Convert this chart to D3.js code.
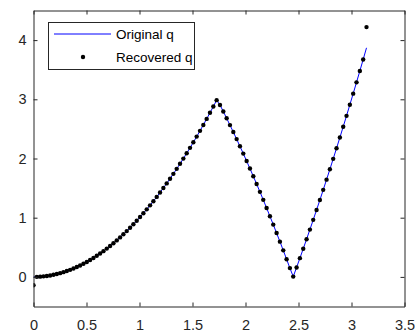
<!DOCTYPE html>
<html>
<head>
<meta charset="utf-8">
<script src="https://cdn.jsdelivr.net/npm/d3@7"></script>
<style>
  html, body { margin: 0; padding: 0; background: #ffffff; }
  svg { display: block; }
  text { font-family: "Liberation Sans", Arial, Helvetica, sans-serif; }
</style>
</head>
<body>
<div id="chart"></div>
<script>
// ---------- data ----------
const xValues = [
  0, 0.0314, 0.0628, 0.0942, 0.1257, 0.1571, 0.1885, 0.2199, 0.2513, 0.2827,
  0.3142, 0.3456, 0.3770, 0.4084, 0.4398, 0.4712, 0.5027, 0.5341, 0.5655, 0.5969,
  0.6283, 0.6597, 0.6912, 0.7226, 0.7540, 0.7854, 0.8168, 0.8482, 0.8796, 0.9111,
  0.9425, 0.9739, 1.0053, 1.0367, 1.0681, 1.0996, 1.1310, 1.1624, 1.1938, 1.2252,
  1.2566, 1.2881, 1.3195, 1.3509, 1.3823, 1.4137, 1.4451, 1.4765, 1.5080, 1.5394,
  1.5708, 1.6022, 1.6336, 1.6650, 1.6965, 1.7279, 1.7593, 1.7907, 1.8221, 1.8535,
  1.8850, 1.9164, 1.9478, 1.9792, 2.0106, 2.0420, 2.0735, 2.1049, 2.1363, 2.1677,
  2.1991, 2.2305, 2.2619, 2.2934, 2.3248, 2.3562, 2.3876, 2.4190, 2.4504, 2.4819,
  2.5133, 2.5447, 2.5761, 2.6075, 2.6389, 2.6704, 2.7018, 2.7332, 2.7646, 2.7960,
  2.8274, 2.8588, 2.8903, 2.9217, 2.9531, 2.9845, 3.0159, 3.0473, 3.0788, 3.1102,
  3.1416
];
const originalQ = [
  0, 0.0010, 0.0039, 0.0089, 0.0158, 0.0247, 0.0355, 0.0484, 0.0632, 0.0799,
  0.0987, 0.1194, 0.1421, 0.1668, 0.1934, 0.2221, 0.2527, 0.2852, 0.3198, 0.3563,
  0.3948, 0.4353, 0.4777, 0.5221, 0.5685, 0.6169, 0.6672, 0.7195, 0.7738, 0.8300,
  0.8883, 0.9485, 1.0107, 1.0748, 1.1409, 1.2090, 1.2791, 1.3512, 1.4252, 1.5012,
  1.5791, 1.6591, 1.7410, 1.8249, 1.9108, 1.9986, 2.0884, 2.1802, 2.2740, 2.3697,
  2.4674, 2.5671, 2.6687, 2.7724, 2.8780, 2.9856, 2.9049, 2.7934, 2.6799, 2.5644,
  2.4469, 2.3275, 2.2061, 2.0828, 1.9574, 1.8301, 1.7008, 1.5695, 1.4363, 1.3011,
  1.1639, 1.0247, 0.8836, 0.7405, 0.5954, 0.4484, 0.2993, 0.1483, 0.0047, 0.1596,
  0.3165, 0.4754, 0.6363, 0.7992, 0.9640, 1.1308, 1.2996, 1.4703, 1.6430, 1.8177,
  1.9944, 2.1730, 2.3536, 2.5362, 2.7207, 2.9073, 3.0958, 3.2863, 3.4787, 3.6732,
  3.8696
];
const recoveredQ = [
  -0.14, 0.0010, 0.0039, 0.0089, 0.0158, 0.0247, 0.0355, 0.0484, 0.0632, 0.0799,
  0.0987, 0.1194, 0.1421, 0.1668, 0.1934, 0.2221, 0.2527, 0.2852, 0.3198, 0.3563,
  0.3948, 0.4353, 0.4777, 0.5221, 0.5685, 0.6169, 0.6672, 0.7195, 0.7738, 0.8300,
  0.8883, 0.9485, 1.0107, 1.0748, 1.1409, 1.2090, 1.2791, 1.3512, 1.4252, 1.5012,
  1.5791, 1.6591, 1.7410, 1.8249, 1.9108, 1.9986, 2.0884, 2.1802, 2.2740, 2.3697,
  2.4674, 2.5671, 2.6687, 2.7724, 2.8780, 2.9856, 2.9049, 2.7934, 2.6799, 2.5644,
  2.4469, 2.3275, 2.2061, 2.0828, 1.9574, 1.8301, 1.7008, 1.5695, 1.4363, 1.3011,
  1.1639, 1.0247, 0.8836, 0.7405, 0.5954, 0.4484, 0.2993, 0.1483, 0.0047, 0.1596,
  0.3165, 0.4754, 0.6363, 0.7992, 0.9640, 1.1308, 1.2996, 1.4703, 1.6430, 1.8177,
  1.9944, 2.1730, 2.3536, 2.5362, 2.7207, 2.9073, 3.0958, 3.2863, 3.4787, 3.6732,
  4.22
];
const xTicks = [0, 0.5, 1, 1.5, 2, 2.5, 3, 3.5];
const xTickLabels = ["0", "0.5", "1", "1.5", "2", "2.5", "3", "3.5"];
const yTicks = [0, 1, 2, 3, 4];
const yTickLabels = ["0", "1", "2", "3", "4"];
const legendLabels = ["Original q", "Recovered q"];

// ---------- layout ----------
const W = 415, H = 333;
const mLeft = 33.5, mRight = 404.5, mTop = 10.5, mBottom = 306.5;
const axisColor = "#262626";
const tickFont = "14.5px";
const legendFont = "13.5px";

const x = d3.scaleLinear().domain([0, 3.5]).range([mLeft, mRight]);
const y = d3.scaleLinear().domain([-0.5, 4.5]).range([mBottom, mTop]);

const svg = d3.select("#chart").append("svg")
  .attr("width", W).attr("height", H);

svg.append("rect").attr("x", mLeft).attr("y", mTop)
  .attr("width", mRight - mLeft).attr("height", mBottom - mTop)
  .attr("fill", "#ffffff");

svg.append("clipPath").attr("id", "plotclip")
  .append("rect").attr("x", mLeft).attr("y", mTop)
  .attr("width", mRight - mLeft).attr("height", mBottom - mTop);

const plot = svg.append("g").attr("clip-path", "url(#plotclip)");

// original line
const line = d3.line().x((d, i) => x(xValues[i])).y(d => y(d));
plot.append("path").datum(originalQ)
  .attr("d", line)
  .attr("fill", "none")
  .attr("stroke", "#0000ff")
  .attr("stroke-width", 1);

// recovered points
plot.selectAll("circle.rec").data(recoveredQ).enter().append("circle")
  .attr("class", "rec")
  .attr("cx", (d, i) => x(xValues[i]))
  .attr("cy", d => y(d))
  .attr("r", 2.2)
  .attr("fill", "#000000");

// axes
const tickLen = 4;
const fmtX = (d, i) => xTickLabels[i];
const fmtY = (d, i) => yTickLabels[i];

const gx = svg.append("g").attr("transform", `translate(0,${mBottom})`)
  .call(d3.axisBottom(x).tickValues(xTicks).tickFormat(fmtX).tickSizeInner(-tickLen).tickSizeOuter(0).tickPadding(13));
const gxTop = svg.append("g").attr("transform", `translate(0,${mTop})`)
  .call(d3.axisTop(x).tickValues(xTicks).tickFormat("").tickSizeInner(-tickLen).tickSizeOuter(0));
const gy = svg.append("g").attr("transform", `translate(${mLeft},0)`)
  .call(d3.axisLeft(y).tickValues(yTicks).tickFormat(fmtY).tickSizeInner(-tickLen).tickSizeOuter(0).tickPadding(7));
const gyRight = svg.append("g").attr("transform", `translate(${mRight},0)`)
  .call(d3.axisRight(y).tickValues(yTicks).tickFormat("").tickSizeInner(-tickLen).tickSizeOuter(0));

[gx, gxTop, gy, gyRight].forEach(g => {
  g.select(".domain").attr("stroke", axisColor).attr("stroke-width", 1);
  g.selectAll(".tick line").attr("stroke", axisColor).attr("stroke-width", 1);
  g.selectAll(".tick text").attr("fill", axisColor)
    .style("font-size", tickFont)
    .style("font-family", "'Liberation Sans', Arial, Helvetica, sans-serif");
});
gx.selectAll(".tick text").attr("dy", "0.71em");

// legend
const lg = svg.append("g");
const lgX = 48.5, lgY = 22.5, lgW = 146, lgH = 47;
lg.append("rect").attr("x", lgX).attr("y", lgY).attr("width", lgW).attr("height", lgH)
  .attr("fill", "#ffffff").attr("stroke", axisColor).attr("stroke-width", 1);
lg.append("line").attr("x1", 54).attr("x2", 111).attr("y1", 34).attr("y2", 34)
  .attr("stroke", "#0000ff").attr("stroke-width", 1);
lg.append("circle").attr("cx", 83).attr("cy", 57).attr("r", 2.2).attr("fill", "#000000");
lg.append("text").attr("x", 116).attr("y", 34).attr("dy", "0.35em")
  .style("font-size", legendFont).attr("fill", "#000000").text(legendLabels[0]);
lg.append("text").attr("x", 116).attr("y", 57).attr("dy", "0.35em")
  .style("font-size", legendFont).attr("fill", "#000000").text(legendLabels[1]);
</script>
</body>
</html>
